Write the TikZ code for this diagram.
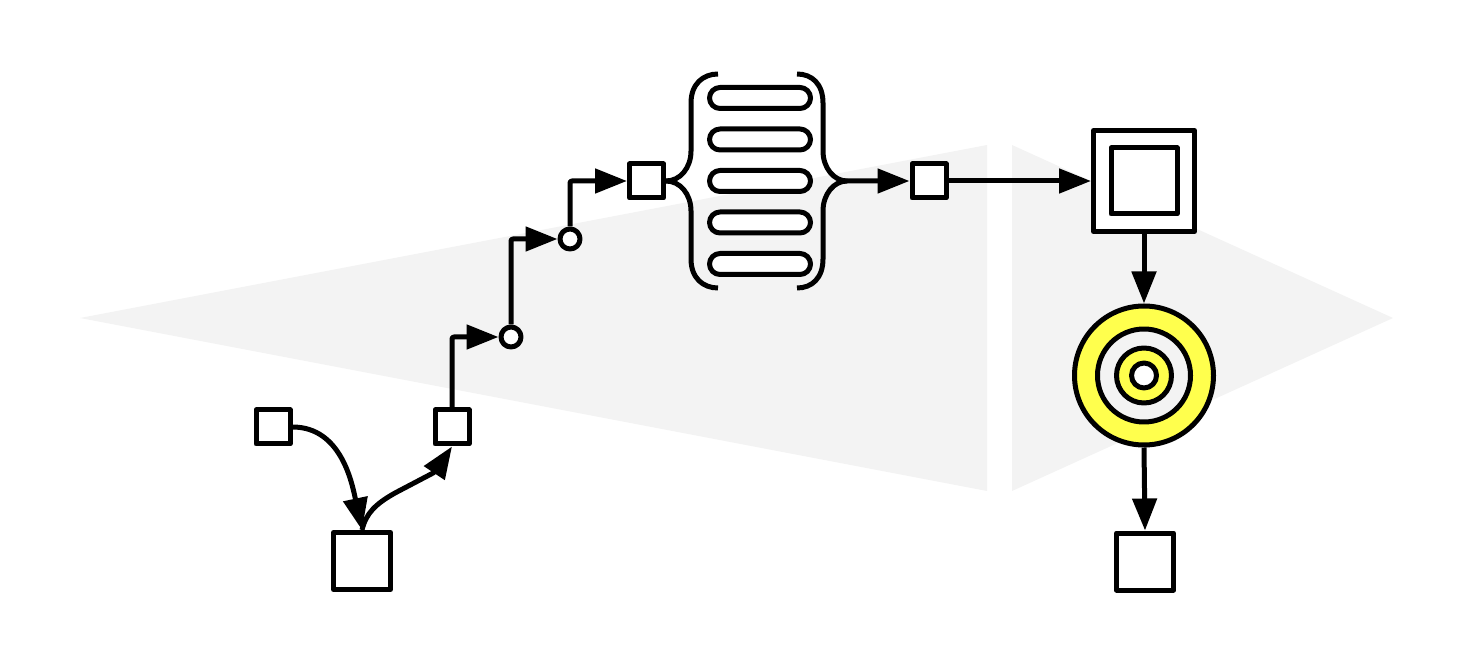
\documentclass[tikz,border=0pt]{standalone}
\usepackage{tikz}
\usetikzlibrary{arrows.meta,positioning}
\definecolor{wedgegray}{HTML}{F3F3F3}
\definecolor{ringyellow}{HTML}{FFFF4D}

\begin{document}
\begin{tikzpicture}[
        on grid,
        line join=round,
        smallbox/.style={draw=black, fill=white, line width=0.05cm, inner sep=0pt, minimum size=0.34cm},
        bigbox/.style={draw=black, fill=white, line width=0.05cm, inner sep=0pt, minimum size=0.57cm},
        dot/.style={circle, draw=black, fill=white, line width=0.05cm, inner sep=0pt, minimum size=0.20cm},
        ring/.style={circle, draw=black, line width=0.05cm, inner sep=0pt},
        pill/.style={draw=black, fill=white, line width=0.05cm, inner sep=0pt, minimum width=1.01cm, minimum height=0.21cm, rounded corners=0.105cm},
        link/.style={draw=black, line width=0.05cm, rounded corners=0.02cm, -{Triangle[length=0.32cm,width=0.24cm]}},
        brace/.style={draw=black, line width=0.05cm}
    ]
        \useasboundingbox (0,0) rectangle (14.72,6.58);

        % background wedges
        \fill[wedgegray] (0.80,3.40) -- (9.87,5.13) -- (9.87,1.67) -- cycle;
        \fill[wedgegray] (10.12,5.13) -- (13.93,3.40) -- (10.12,1.67) -- cycle;

        \node[bigbox] (start) at (3.62,0.97) {};
        \node[smallbox, above left=1.34cm and 0.89cm of start] (feed) {};
        \node[smallbox, above right=1.34cm and 0.90cm of start] (stepa) {};
        \node[dot, above right=0.90cm and 0.59cm of stepa] (dota) {};
        \node[dot, above right=0.98cm and 0.59cm of dota] (dotb) {};
        \node[smallbox, above right=0.58cm and 0.765cm of dotb] (split) {};

        \node[pill, right=1.135cm of split] (pillc) {};
        \node[pill, above=0.415cm of pillc] (pillb) {};
        \node[pill, above=0.83cm of pillc] (pilla) {};
        \node[pill, below=0.415cm of pillc] (pilld) {};
        \node[pill, below=0.83cm of pillc] (pille) {};

        \node[smallbox, right=1.69cm of pillc] (merge) {};
        \node[bigbox, minimum size=1.01cm, right=2.15cm of merge] (outerbox) {};
        \node[bigbox, minimum size=0.66cm] (innerbox) at (outerbox) {};

        \node[ring, fill=ringyellow, minimum size=1.39cm, below=1.945cm of outerbox] (target) {};
        \node[ring, fill=wedgegray, minimum size=0.93cm] (ringb) at (target) {};
        \node[ring, fill=ringyellow, minimum size=0.55cm] (ringc) at (target) {};
        \node[ring, fill=white, minimum size=0.25cm] (ringd) at (target) {};
        \node[bigbox, below right=1.86cm and 0.01cm of target] (finish) {};

        \coordinate (bendc) at (4.35,1.86);
        \coordinate (bracetip) at (8.47,4.77);

        % braces
        \draw[brace] (7.18,5.84) .. controls (7.03,5.84) and (6.91,5.74) .. (6.91,5.55) -- (6.91,5.07) .. controls (6.91,4.90) and (6.80,4.77) .. (split.east);
        \draw[brace] (7.18,3.70) .. controls (7.03,3.70) and (6.91,3.80) .. (6.91,3.99) -- (6.91,4.47) .. controls (6.91,4.64) and (6.80,4.77) .. (split.east);
        \draw[brace] (7.97,5.84) .. controls (8.12,5.84) and (8.23,5.74) .. (8.23,5.55) -- (8.23,5.07) .. controls (8.23,4.90) and (8.34,4.77) .. (bracetip);
        \draw[brace] (7.97,3.70) .. controls (8.12,3.70) and (8.23,3.80) .. (8.23,3.99) -- (8.23,4.47) .. controls (8.23,4.64) and (8.34,4.77) .. (bracetip);

        \draw[link] (feed.east) to[out=0, in=102] (start.north);
        \draw[link] (start.north) .. controls (3.66,1.45) and (3.76,1.54) .. (3.95,1.65) -- (bendc) -- (stepa.south);
        \draw[link] (stepa.north) |- (dota.west);
        \draw[link] (dota.north) |- (dotb.west);
        \draw[link] (dotb.north) |- (split.west);
        \draw[link] (bracetip) -- (merge.west);
        \draw[link] (merge.east) -- (outerbox.west);
        \draw[link] (outerbox.south) -- (target.north);
        \draw[link] (target.south) -- (finish.north);

    \end{tikzpicture}
\end{document}
